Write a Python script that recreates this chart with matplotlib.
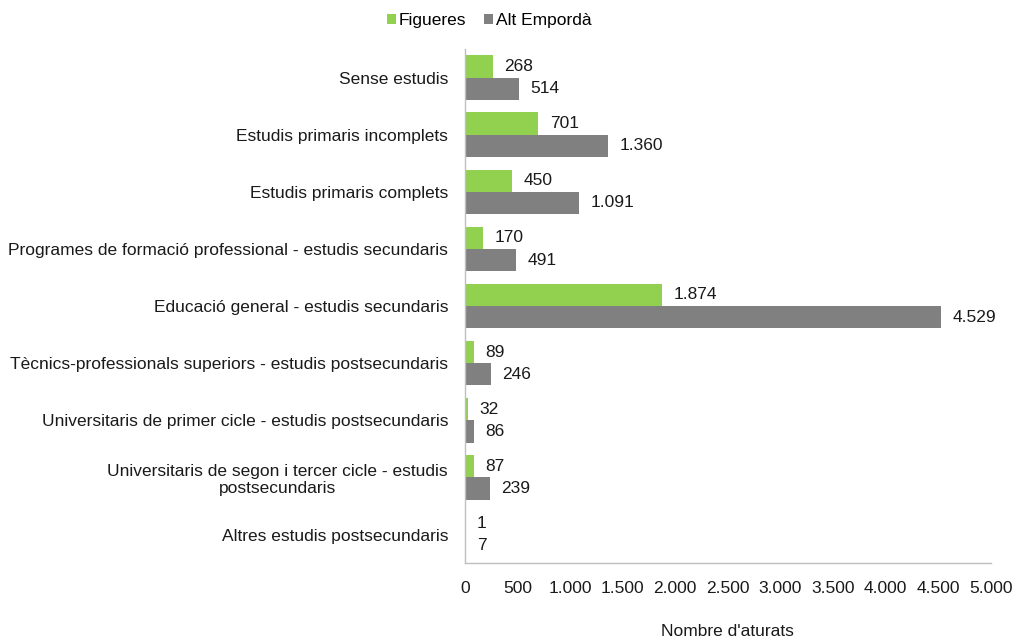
import matplotlib.pyplot as plt
from matplotlib.ticker import FuncFormatter

plt.rcParams['font.family'] = ['Liberation Sans', 'DejaVu Sans']

categories = [
    "Sense estudis",
    "Estudis primaris incomplets",
    "Estudis primaris complets",
    "Programes de formació professional - estudis secundaris",
    "Educació general - estudis secundaris",
    "Tècnics-professionals superiors - estudis postsecundaris",
    "Universitaris de primer cicle - estudis postsecundaris",
    "Universitaris de segon i tercer cicle - estudis\npostsecundaris",
    "Altres estudis postsecundaris",
]
figueres = [268, 701, 450, 170, 1874, 89, 32, 87, 1]
alt_emporda = [514, 1360, 1091, 491, 4529, 246, 86, 239, 7]
xticks = [0, 500, 1000, 1500, 2000, 2500, 3000, 3500, 4000, 4500, 5000]

FS = 12.5


def dots(v):
    return f"{int(v):,}".replace(",", ".")


fig = plt.figure(figsize=(10.17, 6.37), dpi=100)
ax = fig.add_axes([0.457, 0.116, 0.517, 0.807])

h = 0.39
y = list(range(len(categories)))
yg = [i - h / 2 for i in y]
ya = [i + h / 2 for i in y]
b1 = ax.barh(yg, figueres, height=h, color="#92D050", label="Figueres")
b2 = ax.barh(ya, alt_emporda, height=h, color="#808080", label="Alt Empordà")

for yy, v in zip(yg, figueres):
    ax.text(v + 110, yy, dots(v), va="center", ha="left", fontsize=FS, color="#1a1a1a")
for yy, v in zip(ya, alt_emporda):
    ax.text(v + 110, yy, dots(v), va="center", ha="left", fontsize=FS, color="#1a1a1a")

ax.set_xlim(0, 5000)
ax.set_ylim(len(categories) - 0.5, -0.5)
ax.set_xticks(xticks)
ax.xaxis.set_major_formatter(FuncFormatter(lambda v, p: dots(v)))
ax.set_yticks(y)
ax.set_yticklabels(categories, fontsize=FS, color="#1a1a1a")
for t in ax.get_yticklabels():
    t.set_multialignment("center")
ax.tick_params(axis="x", length=0, pad=13, labelsize=FS, labelcolor="#1a1a1a")
ax.tick_params(axis="y", length=0, pad=12)
ax.set_xlabel("Nombre d'aturats", fontsize=FS, color="#1a1a1a", labelpad=20)

for s in ["top", "right"]:
    ax.spines[s].set_visible(False)
for s in ["left", "bottom"]:
    ax.spines[s].set_color("#bfbfbf")
    ax.spines[s].set_linewidth(1)

fig.legend(handles=[b1, b2], loc="center", bbox_to_anchor=(0.481, 0.968), ncol=2,
           frameon=False, fontsize=FS, handlelength=0.55, handleheight=0.55,
           handletextpad=0.15, columnspacing=1.0)

fig.savefig("out.png", dpi=100)
